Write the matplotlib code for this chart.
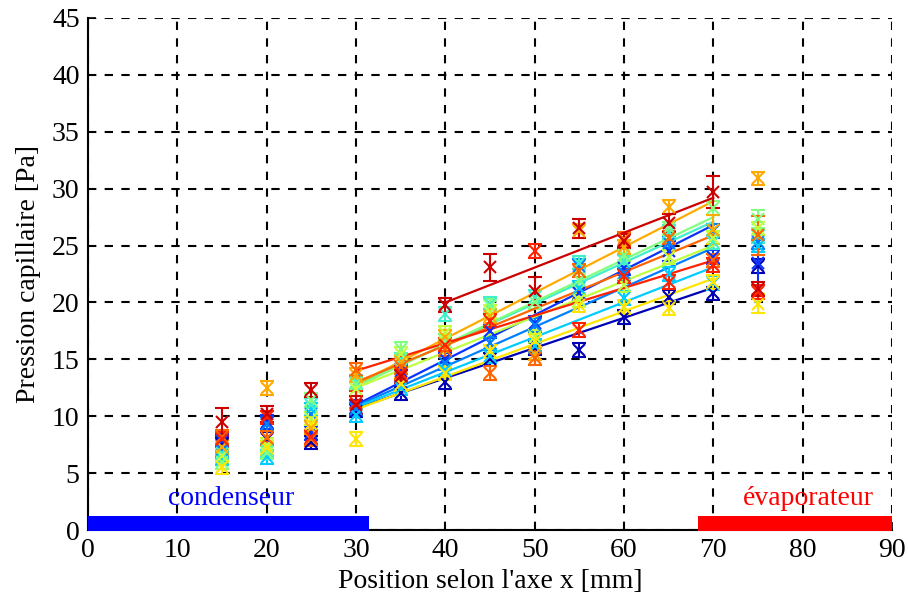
import numpy as np
import matplotlib
matplotlib.use('Agg')
import matplotlib.pyplot as plt

plt.rcParams['font.family'] = ['Liberation Serif', 'DejaVu Serif']

positions = [15, 20, 25, 30, 35, 40, 45, 50, 55, 60, 65, 70, 75]

colors = ['#0000b4', '#0a32ff', '#0080ff', '#00ccff', '#40f0c8', '#80ff80',
          '#c0ff40', '#ffe600', '#ffaa00', '#ff6600', '#ff2200', '#cc0000']

pressure = [
    [7.5, 8.0, 7.7, 10.5, 12.0, 13.0, 15.0, 16.0, 15.8, 18.7, 20.5, 20.8, 23.2],
    [7.8, 9.5, 8.5, 10.8, 14.0, 15.0, 17.5, 18.2, 20.8, 23.0, 24.5, 24.0, 23.5],
    [7.0, 9.3, 10.2, 10.6, 13.5, 14.7, 16.4, 18.0, 23.2, 22.6, 25.2, 26.3, 25.3],
    [6.3, 6.4, 10.6, 10.1, 12.5, 14.1, 15.3, 16.2, 21.3, 20.4, 22.5, 21.7, 25.0],
    [6.8, 7.0, 11.0, 13.0, 15.0, 19.0, 19.9, 20.5, 23.5, 23.6, 26.2, 25.3, 25.8],
    [6.0, 6.8, 11.4, 12.8, 15.9, 16.6, 19.7, 20.0, 22.0, 24.2, 26.5, 28.3, 27.3],
    [6.5, 7.5, 9.8, 12.4, 15.5, 17.3, 19.2, 17.0, 20.2, 21.5, 24.0, 25.7, 26.5],
    [5.5, 7.2, 9.3, 8.0, 12.8, 13.8, 15.7, 16.6, 19.8, 19.6, 19.5, 21.8, 19.9],
    [7.3, 12.5, 9.0, 13.6, 14.8, 17.0, 18.8, 15.5, 26.3, 24.9, 28.4, 26.4, 30.9],
    [8.2, 8.1, 8.0, 14.1, 14.3, 15.9, 13.8, 15.1, 22.8, 25.6, 25.7, 23.7, 25.9],
    [8.0, 9.9, 8.2, 11.2, 13.8, 16.3, 18.4, 24.5, 17.6, 22.3, 21.8, 23.3, 20.9],
    [9.5, 10.2, 12.3, 11.0, 13.5, 19.8, 23.1, 21.0, 26.5, 25.4, 27.0, 29.7, 21.2],
]

errors = [
    [0.6, 0.6, 0.6, 0.6, 0.6, 0.6, 0.6, 0.6, 0.6, 0.6, 0.6, 0.6, 0.6],
    [0.6, 0.6, 0.6, 0.6, 0.6, 0.6, 0.6, 0.6, 0.6, 0.6, 0.9, 0.6, 2.0],
    [0.6, 0.6, 0.6, 0.6, 0.6, 0.6, 0.6, 0.6, 0.6, 0.6, 0.6, 0.6, 0.6],
    [0.6, 0.6, 0.6, 0.6, 0.6, 0.6, 0.6, 0.6, 0.6, 0.6, 0.6, 0.6, 0.6],
    [0.6, 0.6, 0.6, 0.6, 0.6, 0.6, 0.6, 0.6, 0.6, 0.6, 0.6, 0.6, 0.6],
    [0.6, 0.6, 0.6, 0.6, 0.6, 0.6, 0.6, 0.6, 0.6, 0.6, 0.6, 0.6, 0.8],
    [0.6, 0.6, 0.6, 0.6, 0.6, 0.6, 0.6, 0.6, 0.6, 0.6, 0.6, 0.6, 0.6],
    [0.6, 0.6, 0.6, 0.6, 0.6, 0.6, 0.6, 0.6, 0.6, 0.6, 0.6, 0.6, 0.8],
    [0.6, 0.6, 0.6, 0.6, 0.6, 0.6, 0.6, 0.6, 0.6, 0.6, 0.6, 1.3, 0.6],
    [0.6, 0.6, 0.6, 0.6, 0.6, 0.6, 0.6, 0.6, 0.6, 0.6, 0.6, 0.6, 1.7],
    [0.6, 0.6, 0.6, 1.0, 0.6, 0.6, 0.6, 0.6, 0.6, 0.6, 0.6, 0.6, 0.6],
    [1.2, 0.7, 0.6, 0.8, 0.6, 0.6, 1.2, 1.2, 0.8, 0.6, 0.8, 1.4, 0.6],
]

fit_x0 = [30, 30, 30, 30, 30, 30, 30, 30, 30, 30, 30, 40]
fit_x1 = [70] * 12
fit_y0 = [10.7, 11.0, 10.9, 10.8, 12.7, 12.6, 12.5, 10.6, 12.8, 13.0, 14.0, 20.0]
fit_y1 = [21.3, 26.8, 24.8, 23.1, 27.1, 27.5, 25.0, 22.1, 28.9, 25.9, 23.7, 29.2]

zones = ['condenseur', 'évaporateur']
zone_start = [0, 68.3]
zone_end = [31.5, 90]
zone_colors = ['#0000ff', '#ff0000']
zone_label_x = [16.0, 80.6]

fig = plt.figure(figsize=(9.08, 6.01), dpi=100)
ax = fig.add_axes([0.0969, 0.1181, 0.8855, 0.852])

for i, c in enumerate(colors):
    ax.errorbar(positions, pressure[i], yerr=errors[i], fmt='x', color=c,
                ms=8, mew=1.5, elinewidth=1.5, capsize=5, capthick=1.5, zorder=3)
    ax.plot([fit_x0[i], fit_x1[i]], [fit_y0[i], fit_y1[i]], '-', color=c, lw=1.6, zorder=3)

for name, a, b, c, tx in zip(zones, zone_start, zone_end, zone_colors, zone_label_x):
    ax.fill_between([a, b], [-0.1, -0.1], [1.25, 1.25], color=c, lw=0, zorder=5, clip_on=False)
    ax.text(tx, 2.8, name, color=c, fontsize=20, ha='center', va='center', zorder=6)

ax.set_xlim(0, 90)
ax.set_ylim(0, 45)
ax.set_xticks(range(0, 91, 10))
ax.set_yticks(range(0, 46, 5))
ax.grid(True, color='black', linestyle=(0, (4, 4)), linewidth=1.5)
ax.spines['top'].set_visible(False)
ax.spines['right'].set_visible(False)
ax.spines['left'].set_linewidth(1.5)
ax.spines['bottom'].set_linewidth(1.5)
ax.tick_params(direction='in', length=6, width=1.2, labelsize=20, pad=6)
ax.set_xlabel("Position selon l'axe x [mm]", fontsize=20, labelpad=4)
ax.set_ylabel('Pression capillaire [Pa]', fontsize=20, labelpad=8)

fig.savefig('out.png', dpi=100)
